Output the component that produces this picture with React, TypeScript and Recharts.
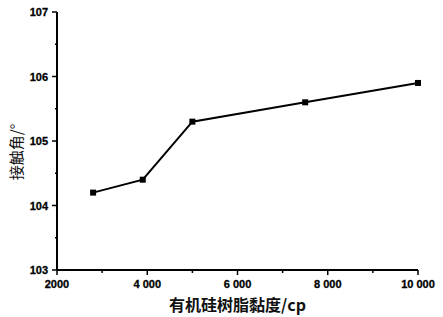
import { LineChart, Line, XAxis, YAxis } from 'recharts'

const viscosity = [2800, 3900, 5000, 7500, 10000]
const contactAngle = [104.2, 104.4, 105.3, 105.6, 105.9]

const xTicks = [2000, 3000, 4000, 5000, 6000, 7000, 8000, 9000, 10000]
const xMajorLabels: { [key: number]: string } = {
  2000: '2000',
  4000: '4 000',
  6000: '6 000',
  8000: '8 000',
  10000: '10 000',
}
const yTicks = [103, 103.5, 104, 104.5, 105, 105.5, 106, 106.5, 107]
const yMajorLabels: { [key: number]: string } = {
  103: '103',
  104: '104',
  105: '105',
  106: '106',
  107: '107',
}

const data = viscosity.map((v, i) => ({ x: v, y: contactAngle[i] }))

const tickFont = '"Liberation Sans", Arial, sans-serif'

const XTick = (props: any) => {
  const { x, y, payload } = props
  const label = xMajorLabels[payload.value]
  const len = label ? 5 : 3
  return (
    <g>
      <line x1={x} x2={x} y1={y} y2={y + len} stroke="#000" strokeWidth={1.5} />
      {label && (
        <text
          x={x}
          y={y + 18}
          textAnchor="middle"
          fontSize={11}
          fontWeight={700}
          fontFamily={tickFont}
          fill="#000"
          stroke="#000"
          strokeWidth={0.3}
        >
          {label}
        </text>
      )}
    </g>
  )
}

const YTick = (props: any) => {
  const { x, y, payload } = props
  const label = yMajorLabels[payload.value]
  const len = label ? 5 : 2
  return (
    <g>
      <line x1={x - len} x2={x} y1={y} y2={y} stroke="#000" strokeWidth={1.5} />
      {label && (
        <text
          x={x - 9}
          y={y + 4}
          textAnchor="end"
          fontSize={11}
          fontWeight={700}
          fontFamily={tickFont}
          fill="#000"
          stroke="#000"
          strokeWidth={0.3}
        >
          {label}
        </text>
      )}
    </g>
  )
}

const SquareDot = (props: any) => {
  const { cx, cy } = props
  return <rect x={cx - 3} y={cy - 3} width={6} height={6} fill="#000" />
}

export default function App() {
  return (
    <div style={{ position: 'absolute', left: 0, top: 0, background: 'white' }}>
      <LineChart width={443} height={317} data={data} margin={{ top: 12, right: 25, bottom: 0, left: 0 }}>
        <XAxis
          dataKey="x"
          type="number"
          domain={[2000, 10000]}
          ticks={xTicks}
          interval={0}
          height={47}
          tickSize={0}
          tickMargin={0}
          tickLine={false}
          axisLine={{ stroke: '#000', strokeWidth: 2 }}
          tick={<XTick />}
          label={{
            content: (p: any) => {
              const vb = p.viewBox
              return (
                <text
                  x={vb.x + vb.width / 2}
                  y={vb.y + 41}
                  textAnchor="middle"
                  fontSize={16}
                  fontWeight="bold"
                  fontFamily='"Noto Sans CJK SC", sans-serif'
                  fill="#111"
                >
                  有机硅树脂黏度/cp
                </text>
              )
            },
          }}
        />
        <YAxis
          dataKey="y"
          type="number"
          domain={[103, 107]}
          ticks={yTicks}
          interval={0}
          width={57}
          tickSize={0}
          tickMargin={0}
          tickLine={false}
          axisLine={{ stroke: '#000', strokeWidth: 2 }}
          tick={<YTick />}
          label={{
            content: (p: any) => {
              const vb = p.viewBox
              const cx = 15
              const cy = vb.y + vb.height / 2 + 11
              return (
                <text
                  x={cx}
                  y={cy}
                  transform={`rotate(-90 ${cx} ${cy})`}
                  textAnchor="middle"
                  dominantBaseline="central"
                  fontSize={15}
                  fontFamily='"Noto Sans CJK SC", sans-serif'
                  fill="#111"
                >
                  接触角/°
                </text>
              )
            },
          }}
        />
        <Line
          dataKey="y"
          stroke="#000"
          strokeWidth={2}
          dot={<SquareDot />}
          activeDot={false}
          isAnimationActive={false}
        />
      </LineChart>
    </div>
  )
}
